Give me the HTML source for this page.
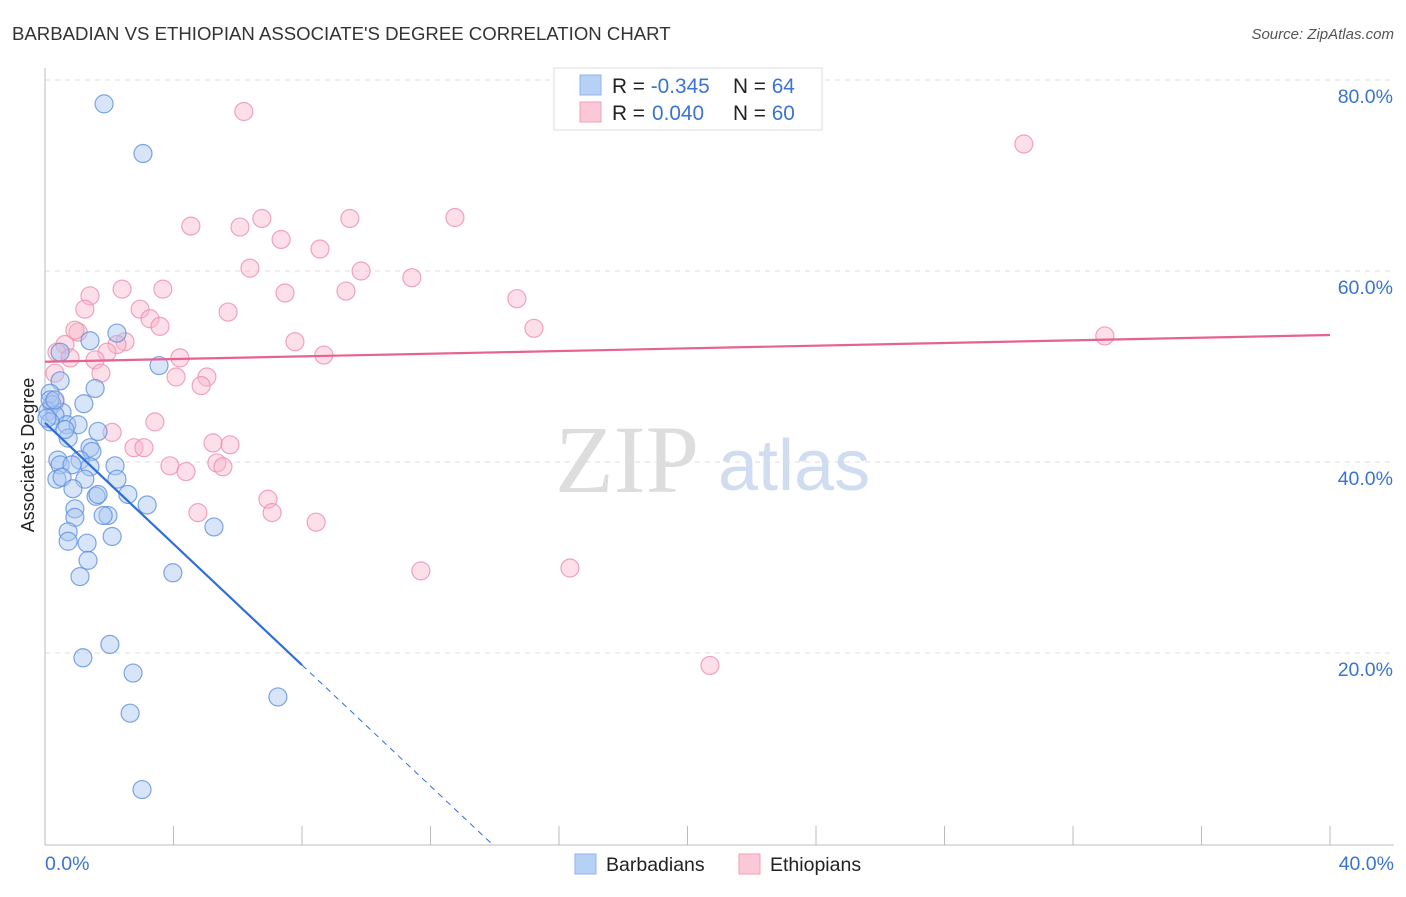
<!DOCTYPE html>
<html><head><meta charset="utf-8"><style>
body{margin:0;background:#fff;font-family:"Liberation Sans",sans-serif}
</style></head><body>
<svg id="c" width="1406" height="892" xmlns="http://www.w3.org/2000/svg" font-family="Liberation Sans, sans-serif">
<text x="12" y="40" font-size="18.6" fill="#333">BARBADIAN VS ETHIOPIAN ASSOCIATE'S DEGREE CORRELATION CHART</text>
<text x="1394" y="39" font-size="15" fill="#555" font-style="italic" text-anchor="end">Source: ZipAtlas.com</text>
<g id="grid"></g>
<text x="555" y="492" font-size="96" fill="#ddd" font-family="Liberation Serif, serif">ZIP</text>
<text x="718" y="490" font-size="72" fill="#d0dcf0">atlas</text>
<g id="marks"></g>
<text transform="translate(34,455) rotate(-90)" font-size="18" fill="#222" text-anchor="middle">Associate's Degree</text>
<g>
<rect x="554" y="68" width="268" height="62" fill="#fff" stroke="#ddd"/>
<rect x="580" y="75" width="21" height="20" fill="#b7d0f5" stroke="#8fb3ea"/>
<rect x="580" y="102" width="21" height="20" fill="#fbc8d8" stroke="#f0a0b8"/>
<text x="612" y="93" font-size="20.8" fill="#222">R = <tspan fill="#3a74d0">-0.345</tspan><tspan x="733">N = </tspan><tspan fill="#3a74d0">64</tspan></text>
<text x="612" y="120" font-size="20.8" fill="#222">R = <tspan fill="#3a74d0" x="652">0.040</tspan><tspan x="733">N = </tspan><tspan fill="#3a74d0">60</tspan></text>
</g>
<g>
<rect x="575" y="854" width="21" height="20" fill="#b7d0f5" stroke="#8fb3ea"/>
<text x="606" y="871" font-size="19.5" fill="#222">Barbadians</text>
<rect x="739" y="854" width="21" height="20" fill="#fbc8d8" stroke="#f0a0b8"/>
<text x="770" y="871" font-size="19.5" fill="#222">Ethiopians</text>
</g>
</svg>
<script>
const yTicks=[20,40,60,80];
const yTickLabels=["20.0%","40.0%","60.0%","80.0%"];
const xTicks=[0,4,8,12,16,20,24,28,32,36,40];
const blueX=[1.84,3.05,2.24,1.40,0.47,3.55,0.47,1.56,0.16,1.21,0.22,0.09,0.53,0.31,0.68,1.03,0.16,0.72,1.65,1.40,1.46,0.40,1.09,0.47,2.18,1.40,0.84,0.37,1.24,0.53,2.24,0.87,2.58,1.59,1.65,3.18,0.93,0.93,1.96,1.81,5.26,0.72,2.09,0.72,1.31,1.34,3.98,1.09,2.02,1.18,2.74,7.25,2.65,3.02,0.16,0.06,0.31,0.62];
const blueY=[77.5,72.3,53.5,52.7,51.5,50.1,48.5,47.7,47.2,46.1,46.0,45.3,45.2,44.9,43.9,43.9,44.2,42.5,43.2,41.5,41.1,40.2,40.2,39.7,39.6,39.5,39.7,38.2,38.2,38.4,38.2,37.2,36.6,36.4,36.6,35.5,35.1,34.2,34.4,34.4,33.2,32.7,32.2,31.7,31.5,29.7,28.4,28.0,20.9,19.5,17.9,15.4,13.7,5.7,46.5,44.6,46.5,43.4];
const pinkX=[6.19,30.47,4.54,12.76,6.75,9.49,6.07,7.35,8.56,6.38,9.84,11.42,2.40,3.67,1.40,7.47,14.69,9.37,2.96,1.24,5.70,3.27,3.58,15.22,1.03,0.93,32.99,7.78,2.49,0.62,2.24,0.37,1.93,4.20,0.78,1.56,8.68,0.31,1.74,4.08,5.04,4.86,0.31,3.42,2.09,5.23,5.76,2.77,3.08,3.89,5.35,5.54,4.39,6.94,4.76,7.07,8.44,11.70,16.34,20.70];
const pinkY=[76.7,73.3,64.7,65.6,65.5,65.5,64.6,63.3,62.3,60.3,60.0,59.3,58.1,58.1,57.4,57.7,57.1,57.9,56.0,56.0,55.7,55.0,54.2,54.0,53.6,53.8,53.2,52.6,52.6,52.3,52.3,51.5,51.5,50.9,50.9,50.7,51.2,49.3,49.3,48.9,48.9,48.0,46.3,44.2,43.1,42.0,41.8,41.5,41.5,39.6,39.9,39.5,39.0,36.1,34.7,34.7,33.7,28.6,28.9,18.7];
const blueFit=[44.1,-3.17];
const pinkFit=[50.5,0.07];
const X=v=>45+v/40*1285, Y=v=>844-v/20*191;
const NS="http://www.w3.org/2000/svg";
const svg=document.getElementById('c'),grid=document.getElementById('grid'),marks=document.getElementById('marks');
function mk(tag,a,p){const e=document.createElementNS(NS,tag);for(const k in a)e.setAttribute(k,a[k]);(p||svg).appendChild(e);return e;}
yTicks.forEach((t,i)=>{
 const l=mk('line',{x1:45,x2:1394,y1:Y(t),y2:Y(t),stroke:'#ddd','stroke-dasharray':'5,5'},grid);
 
 
 const tx=mk('text',{x:1393,y:Y(t)+23,'font-size':19.5,fill:'#3a74d0','text-anchor':'end'},grid);
 tx.textContent=yTickLabels[i];
 
 
});
const ax=mk('line',{x1:45,x2:45,y1:68,y2:845,stroke:'#bbb'},grid);


const bx=mk('line',{x1:45,x2:1394,y1:845,y2:845,stroke:'#bbb'},grid);


xTicks.forEach(t=>{const l=mk('line',{x1:X(t),x2:X(t),y1:826,y2:845,stroke:'#bbb'},grid);
 
 });
[[0,'start',45],[40,'end',1394]].forEach(([v,a,x])=>{const t=mk('text',{x:x,y:870,'font-size':19.5,fill:'#3a74d0','text-anchor':a},grid);t.textContent=v.toFixed(1)+'%';
 
 });
function pts(xs,ys,fill,stroke,name){xs.forEach((x,i)=>{const c=mk('circle',{cx:X(x),cy:Y(ys[i]),r:9,fill:fill,'fill-opacity':0.45,stroke:stroke,'stroke-opacity':0.8,'stroke-width':1.2},marks);
 
 });}
pts(pinkX,pinkY,'#f9b8cc','#ec8fac','ethiopian-point');
pts(blueX,blueY,'#a8c6f2','#5d90dd','barbadian-point');
const f=(fit,x)=>fit[0]+fit[1]*x;
const bl=mk('line',{x1:X(0),y1:Y(f(blueFit,0)),x2:X(8),y2:Y(f(blueFit,8)),stroke:'#2f6fd6','stroke-width':2.2},marks);


const xe=-blueFit[0]/blueFit[1];
const bd=mk('line',{x1:X(8),y1:Y(f(blueFit,8)),x2:X(xe),y2:Y(0),stroke:'#2f6fd6','stroke-width':1,'stroke-dasharray':'6,5'},marks);


const pl=mk('line',{x1:X(0),y1:Y(f(pinkFit,0)),x2:X(40),y2:Y(f(pinkFit,40)),stroke:'#e8628e','stroke-width':2.2},marks);


</script>
</body></html>
